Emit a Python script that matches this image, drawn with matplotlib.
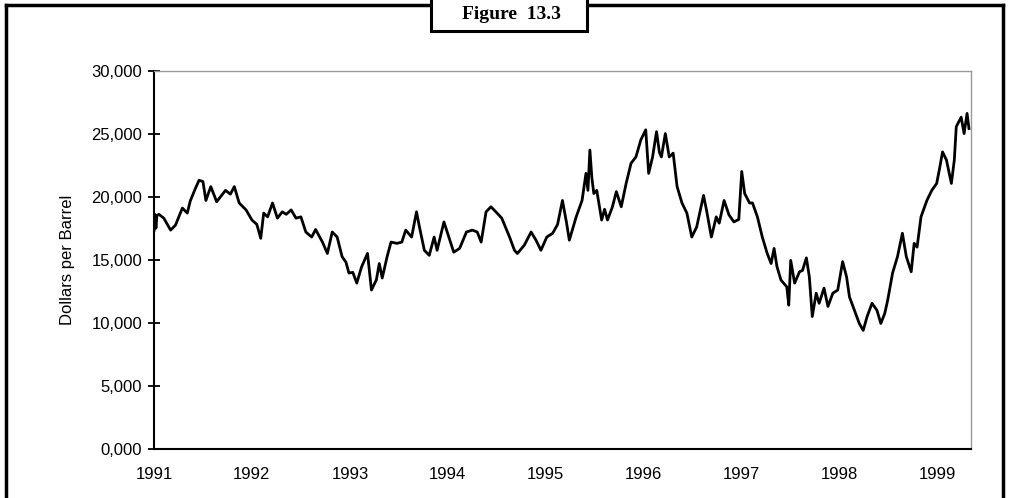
import matplotlib.pyplot as plt
from matplotlib.lines import Line2D
from matplotlib.patches import Rectangle

# price series: decimal year, dollars per barrel
dates = [
    1991.00, 1991.01, 1991.02, 1991.03, 1991.05, 1991.10, 1991.17, 1991.22, 1991.29, 1991.34,
    1991.37, 1991.42, 1991.46, 1991.50, 1991.53, 1991.58, 1991.64, 1991.68, 1991.73, 1991.78,
    1991.82, 1991.87, 1991.94, 1992.00, 1992.05, 1992.09, 1992.12, 1992.16, 1992.21, 1992.26,
    1992.31, 1992.35, 1992.40, 1992.45, 1992.50, 1992.55, 1992.61, 1992.65, 1992.72, 1992.77,
    1992.82, 1992.87, 1992.92, 1992.96, 1992.99, 1993.03, 1993.07, 1993.12, 1993.18, 1993.22,
    1993.27, 1993.30, 1993.33, 1993.38, 1993.42, 1993.48, 1993.53, 1993.57, 1993.63, 1993.68,
    1993.71, 1993.76, 1993.81, 1993.86, 1993.89, 1993.96, 1994.01, 1994.06, 1994.12, 1994.19,
    1994.25, 1994.30, 1994.34, 1994.39, 1994.44, 1994.49, 1994.55, 1994.60, 1994.63, 1994.68,
    1994.71, 1994.78, 1994.85, 1994.90, 1994.95, 1995.01, 1995.07, 1995.12, 1995.17, 1995.21,
    1995.24, 1995.31, 1995.37, 1995.41, 1995.43, 1995.45, 1995.47, 1995.49, 1995.52, 1995.57,
    1995.60, 1995.63, 1995.68, 1995.72, 1995.77, 1995.82, 1995.87, 1995.92, 1995.97, 1996.02,
    1996.05, 1996.09, 1996.13, 1996.16, 1996.18, 1996.22, 1996.26, 1996.30, 1996.34, 1996.39,
    1996.44, 1996.49, 1996.54, 1996.61, 1996.64, 1996.69, 1996.74, 1996.77, 1996.82, 1996.87,
    1996.92, 1996.97, 1997.00, 1997.03, 1997.08, 1997.11, 1997.16, 1997.21, 1997.26, 1997.30,
    1997.33, 1997.36, 1997.40, 1997.46, 1997.48, 1997.50, 1997.54, 1997.59, 1997.62, 1997.66,
    1997.69, 1997.72, 1997.76, 1997.79, 1997.84, 1997.88, 1997.93, 1997.98, 1998.03, 1998.07,
    1998.10, 1998.15, 1998.20, 1998.24, 1998.28, 1998.33, 1998.38, 1998.42, 1998.46, 1998.49,
    1998.54, 1998.59, 1998.64, 1998.68, 1998.73, 1998.76, 1998.79, 1998.83, 1998.89, 1998.94,
    1998.99, 1999.02, 1999.05, 1999.09, 1999.14, 1999.17, 1999.19, 1999.24, 1999.27, 1999.30,
    1999.32,
]
prices = [
    17300, 18600, 17500, 18500, 18600, 18300, 17350, 17750, 19100, 18700,
    19650, 20600, 21300, 21200, 19700, 20800, 19600, 20000, 20500, 20200,
    20800, 19500, 18950, 18150, 17800, 16700, 18700, 18400, 19500, 18300,
    18800, 18600, 18950, 18300, 18400, 17200, 16800, 17400, 16400, 15500,
    17200, 16800, 15250, 14800, 13950, 14000, 13150, 14450, 15500, 12600,
    13400, 14700, 13550, 15250, 16400, 16300, 16400, 17350, 16800, 18800,
    17600, 15750, 15350, 16800, 15750, 18000, 16800, 15600, 15900, 17200,
    17350, 17200, 16400, 18800, 19200, 18800, 18300, 17350, 16800, 15750,
    15500, 16150, 17200, 16550, 15750, 16800, 17100, 17800, 19700, 18000,
    16550, 18400, 19700, 21850, 20500, 23700, 21500, 20250, 20500, 18150,
    19000, 18150, 19200, 20400, 19200, 21050, 22650, 23150, 24500, 25300,
    21850, 23150, 25150, 23500, 23150, 25000, 23150, 23450, 20800, 19500,
    18700, 16800, 17600, 20100, 18950, 16800, 18400, 17900, 19700, 18550,
    18000, 18200, 22000, 20250, 19500, 19500, 18400, 16800, 15500, 14700,
    15900, 14450, 13400, 12850, 11400, 14950, 13150, 14050, 14150, 15150,
    13650, 10500, 12350, 11550, 12750, 11300, 12350, 12600, 14850, 13650,
    12050, 11000, 9950, 9400, 10500, 11550, 11000, 9950, 10750, 11800,
    13950, 15250, 17100, 15250, 14050, 16300, 16000, 18400, 19700, 20500,
    21050, 22250, 23550, 22900, 21050, 22900, 25550, 26300, 25000, 26600,
    25400,
]

year_ticks = [1991, 1992, 1993, 1994, 1995, 1996, 1997, 1998, 1999]
price_ticks = [0, 5000, 10000, 15000, 20000, 25000, 30000]
price_labels = ["0,000", "5,000", "10,000", "15,000", "20,000", "25,000", "30,000"]

plt.rcParams["font.family"] = ["Liberation Sans", "DejaVu Sans"]

fig = plt.figure(figsize=(10.09, 4.98), dpi=100)
ax = fig.add_axes([0.1526, 0.0984, 0.8097, 0.76])

ax.plot(dates, prices, color="black", lw=2.0)

ax.set_xlim(1991, 1999.34)
ax.set_ylim(0, 30000)
ax.set_xticks(year_ticks)
ax.set_xticklabels([str(y) for y in year_ticks])
ax.set_yticks(price_ticks)
ax.set_yticklabels(price_labels)
ax.tick_params(axis="x", length=0, pad=13, labelsize=12)
ax.tick_params(axis="y", direction="inout", length=9, width=1.3, pad=4, labelsize=12)
ax.set_ylabel("Dollars per Barrel", fontsize=12, labelpad=12)

for side in ("left", "bottom"):
    ax.spines[side].set_linewidth(1.5)
    ax.spines[side].set_color("black")
for side in ("top", "right"):
    ax.spines[side].set_linewidth(1.0)
    ax.spines[side].set_color("#999999")

# outer frame around the figure, open at the bottom
W, H = 1009, 498
def px(x, y):
    return x / W, 1 - y / H

for (x0, y0), (x1, y1) in [((6, 5), (1003, 5)), ((6, 5), (6, 498)), ((1003, 5), (1003, 498))]:
    a, b = px(x0, y0)
    c, d = px(x1, y1)
    fig.add_artist(Line2D([a, c], [b, d], transform=fig.transFigure, color="black", lw=2.5))

# caption box on the top edge
bx0, by0 = px(431, 31)
bx1, by1 = px(587, -10)
fig.add_artist(Rectangle((bx0, by0), bx1 - bx0, by1 - by0, transform=fig.transFigure,
                         facecolor="white", edgecolor="black", lw=2.2, zorder=5))
tx, ty = px(511, 19)
fig.text(tx, ty, "Figure  13.3", ha="center", va="baseline", fontsize=14,
         fontweight="bold", family="Liberation Serif", zorder=6)

fig.savefig("out.png", dpi=100)
